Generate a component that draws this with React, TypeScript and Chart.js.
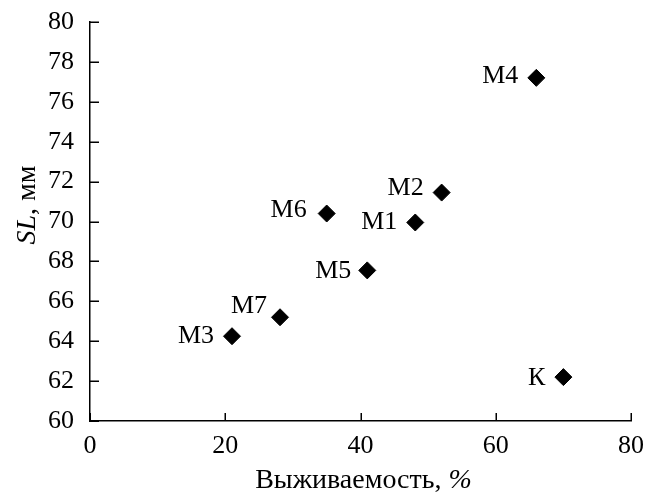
import React, { useEffect, useRef } from 'react';
import { Chart, registerables } from 'chart.js';

Chart.register(...registerables);

// ---- data ----
const pointLabels = ['М1', 'М2', 'М3', 'М4', 'М5', 'М6', 'М7', 'К'];
const survival = [48.1, 52.0, 21.0, 66.0, 41.0, 35.0, 28.1, 70.0];
const slValues = [69.95, 71.45, 64.25, 77.2, 67.55, 70.4, 65.2, 62.2];
const xTickValues = [0, 20, 40, 60, 80];
const yTickValues = [60, 62, 64, 66, 68, 70, 72, 74, 76, 78, 80];
const xTitleMain = 'Выживаемость, ';
const xTitleItalic = '%';
const yTitleItalic = 'SL';
const yTitleMain = ', мм';

// label placement relative to each point (dx, dy) in px
const labelOffsets: Record<string, [number, number]> = {
  'М1': [-18, 0],
  'М2': [-18, -4],
  'М3': [-18, 0],
  'М4': [-18, -2],
  'М5': [-16, 1],
  'М6': [-20, -3],
  'М7': [-13, -11],
  'К': [-18, 1],
};

const FONT = '"Liberation Serif", "Times New Roman", serif';
const FS = 26;
const TFS = 28;

const decorPlugin = {
  id: 'decor',
  afterDatasetsDraw(chart: any) {
    const ctx = chart.ctx;
    const meta = chart.getDatasetMeta(0);
    ctx.save();
    ctx.fillStyle = '#000';
    ctx.font = `${FS}px ${FONT}`;
    ctx.textAlign = 'right';
    ctx.textBaseline = 'middle';
    meta.data.forEach((pt: any, i: number) => {
      const name = pointLabels[i];
      const off = labelOffsets[name] || [-18, 0];
      ctx.fillText(name, pt.x + off[0], pt.y + off[1]);
    });
    ctx.restore();
  },
  afterDraw(chart: any) {
    const ctx = chart.ctx;
    const area = chart.chartArea;
    const xs = chart.scales.x;
    const ys = chart.scales.y;
    ctx.save();
    ctx.strokeStyle = '#000';
    ctx.lineWidth = 1.5;
    ctx.beginPath();
    yTickValues.forEach((v) => {
      const py = Math.round(ys.getPixelForValue(v)) + 0.25;
      ctx.moveTo(area.left, py);
      ctx.lineTo(area.left + 9, py);
    });
    xTickValues.forEach((v) => {
      const px = Math.round(xs.getPixelForValue(v)) + 0.25;
      ctx.moveTo(px, area.bottom);
      ctx.lineTo(px, area.bottom - 8);
    });
    ctx.stroke();

    // x title
    ctx.fillStyle = '#000';
    ctx.textBaseline = 'alphabetic';
    ctx.textAlign = 'left';
    const normalFont = `${TFS}px ${FONT}`;
    const italicFont = `italic ${TFS}px ${FONT}`;
    ctx.font = normalFont;
    const w1 = ctx.measureText(xTitleMain).width;
    ctx.font = italicFont;
    const w2 = ctx.measureText(xTitleItalic).width;
    const cx = (area.left + area.right) / 2 + 3;
    const startX = cx - (w1 + w2) / 2;
    ctx.font = normalFont;
    ctx.fillText(xTitleMain, startX, 488);
    ctx.font = italicFont;
    ctx.fillText(xTitleItalic, startX + w1, 488);

    // y title
    ctx.font = italicFont;
    const v1 = ctx.measureText(yTitleItalic).width;
    ctx.font = normalFont;
    const v2 = ctx.measureText(yTitleMain).width;
    const cy = 205;
    ctx.translate(35, cy);
    ctx.rotate(-Math.PI / 2);
    const sx = -(v1 + v2) / 2;
    ctx.font = italicFont;
    ctx.fillText(yTitleItalic, sx, 0);
    ctx.font = normalFont;
    ctx.fillText(yTitleMain, sx + v1, 0);
    ctx.restore();
  },
};

export default function App() {
  const canvasRef = useRef<HTMLCanvasElement | null>(null);

  useEffect(() => {
    if (!canvasRef.current) return;
    const data = survival.map((x, i) => ({ x, y: slValues[i] }));
    const chart = new Chart(canvasRef.current, {
      type: 'scatter',
      data: {
        datasets: [
          {
            data,
            pointStyle: 'rectRot',
            pointRadius: 8.5,
            pointHoverRadius: 8.5,
            backgroundColor: '#000',
            borderColor: '#000',
            borderWidth: 1,
          },
        ],
      },
      options: {
        animation: false,
        responsive: true,
        maintainAspectRatio: false,
        layout: { padding: { left: 0, top: 22, right: 15, bottom: 0 } },
        plugins: {
          legend: { display: false },
          tooltip: { enabled: false },
        },
        scales: {
          x: {
            type: 'linear',
            min: 0,
            max: 80,
            afterBuildTicks: (scale: any) => {
              scale.ticks = xTickValues.map((v) => ({ value: v }));
            },
            ticks: {
              color: '#000',
              font: { family: FONT, size: FS },
              padding: 10,
            },
            grid: { display: false, drawTicks: false },
            border: { display: true, color: '#000', width: 1.5 },
            afterFit: (scale: any) => {
              scale.height = 72;
              scale.paddingLeft = 0;
              scale.paddingRight = 0;
            },
          },
          y: {
            type: 'linear',
            min: 60,
            max: 80,
            afterBuildTicks: (scale: any) => {
              scale.ticks = yTickValues.map((v) => ({ value: v }));
            },
            ticks: {
              color: '#000',
              font: { family: FONT, size: FS },
              padding: 16,
            },
            grid: { display: false, drawTicks: false },
            border: { display: true, color: '#000', width: 1.5 },
            afterFit: (scale: any) => {
              scale.width = 90;
              scale.paddingTop = 0;
              scale.paddingBottom = 0;
            },
          },
        },
      },
      plugins: [decorPlugin],
    });
    return () => chart.destroy();
  }, []);

  return (
    <div style={{ position: 'absolute', left: 0, top: 0, width: 646, height: 493, background: '#fff' }}>
      <canvas ref={canvasRef} />
    </div>
  );
}
